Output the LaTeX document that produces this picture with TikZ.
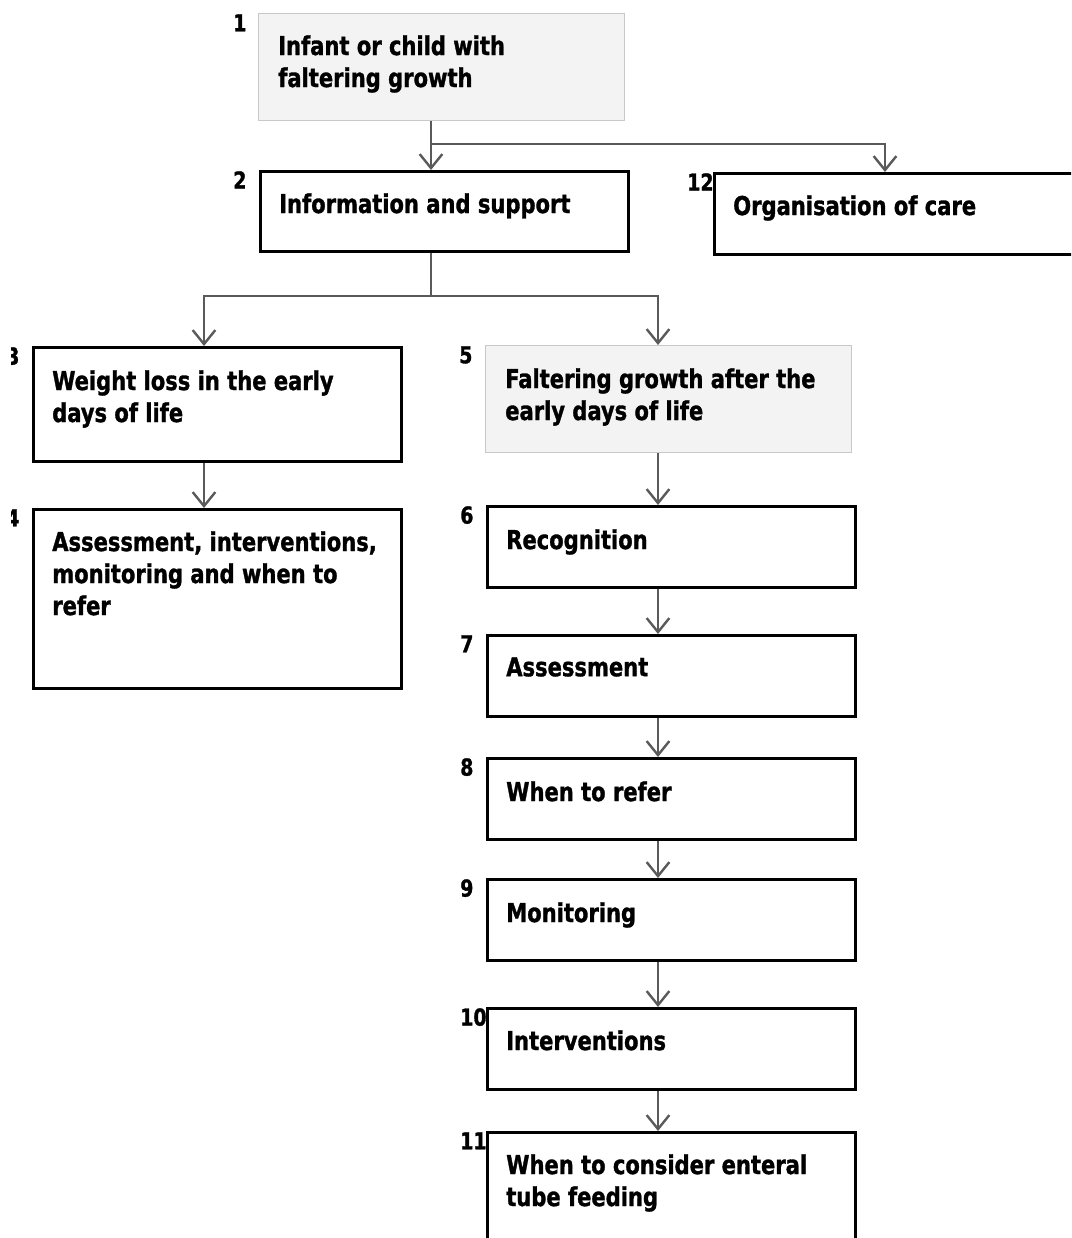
\documentclass[tikz,border=0pt]{standalone}
\usepackage{fontspec}
\newfontfamily\bx{DejaVu Sans Condensed Bold}[FakeStretch=0.9,FakeBold=1.2]
\usetikzlibrary{arrows.meta,calc}
\definecolor{greyfill}{HTML}{F3F3F3}
\definecolor{greyline}{HTML}{C8C8C8}
\definecolor{conncol}{HTML}{5A5A5A}
\begin{document}
\begin{tikzpicture}[x=0.75pt,y=-0.75pt,
  plainbox/.style={draw=black,line width=2pt,fill=white,inner sep=0,anchor=north west},
  greybox/.style={draw=greyline,line width=0.9pt,fill=greyfill,inner sep=0,anchor=north west},
  txt/.style={font=\bx\fontsize{19.5pt}{24pt}\selectfont,align=left,anchor=north west,inner sep=0},
  num/.style={font=\bx\fontsize{17.5pt}{20pt}\selectfont,anchor=north west,inner sep=0},
  line/.style={draw=conncol,line width=1.8pt},
  conn/.style={line,-{Straight Barb[length=10.5pt,width=17pt,line width=1.8pt]}}]
\useasboundingbox (0,0) rectangle (1071,1238);
\clip (0,0) rectangle (1071,1238);
% boxes
\node[greybox,minimum width=274.5pt,minimum height=80pt] (b1) at (258,13) {};
\node[plainbox,minimum width=276pt,minimum height=60pt] (b2) at (259,170) {};
\node[plainbox,minimum width=300pt,minimum height=60.75pt] (b12) at (713,172) {};
\node[plainbox,minimum width=276pt,minimum height=85.5pt] (b3) at (32,346) {};
\node[plainbox,minimum width=276pt,minimum height=134.25pt] (b4) at (32,508) {};
\node[greybox,minimum width=274.5pt,minimum height=80.25pt] (b5) at (485,345) {};
\node[plainbox,minimum width=276pt,minimum height=60.75pt] (b6) at (486,505) {};
\node[plainbox,minimum width=276pt,minimum height=60.75pt] (b7) at (486,634) {};
\node[plainbox,minimum width=276pt,minimum height=60.75pt] (b8) at (486,757) {};
\node[plainbox,minimum width=276pt,minimum height=60.75pt] (b9) at (486,878) {};
\node[plainbox,minimum width=276pt,minimum height=60.75pt] (b10) at (486,1007) {};
\node[plainbox,minimum width=276pt,minimum height=112pt] (b11) at (486,1131) {};
% texts
\node[txt] (t1) at ($(b1.north west)+(20,22)$) {Infant or child with\\faltering growth};
\node[txt] (t2) at ($(b2.north west)+(20,23)$) {Information and support};
\node[txt] (t12) at ($(b12.north west)+(20,23)$) {Organisation of care};
\node[txt] (t3) at ($(b3.north west)+(20,24)$) {Weight loss in the early\\days of life};
\node[txt] (t4) at ($(b4.north west)+(20,23)$) {Assessment, interventions,\\monitoring and when to\\refer};
\node[txt] (t5) at ($(b5.north west)+(20,23)$) {Faltering growth after the\\early days of life};
\node[txt] (t6) at ($(b6.north west)+(20,24)$) {Recognition};
\node[txt] (t7) at ($(b7.north west)+(20,23)$) {Assessment};
\node[txt] (t8) at ($(b8.north west)+(20,24)$) {When to refer};
\node[txt] (t9) at ($(b9.north west)+(20,24)$) {Monitoring};
\node[txt] (t10) at ($(b10.north west)+(20,23)$) {Interventions};
\node[txt] (t11) at ($(b11.north west)+(20,23)$) {When to consider enteral\\tube feeding};
% numbers
\node[num] (n1) at ($(b1.north west)+(-25,1)$) {1};
\node[num] (n2) at ($(b2.north west)+(-26,1)$) {2};
\node[num] (n12) at ($(b12.north west)+(-26,1)$) {12};
\node[num] (n5) at ($(b5.north west)+(-26,1)$) {5};
\node[num] (n6) at ($(b6.north west)+(-26,1)$) {6};
\node[num] (n7) at ($(b7.north west)+(-26,1)$) {7};
\node[num] (n8) at ($(b8.north west)+(-26,1)$) {8};
\node[num] (n9) at ($(b9.north west)+(-26,1)$) {9};
\node[num] (n10) at ($(b10.north west)+(-26,1)$) {10};
\node[num] (n11) at ($(b11.north west)+(-26,1)$) {11};
\begin{scope}
\clip (11,300) rectangle (40,560);
\node[num] (n3) at ($(b3.north west)+(-26,1)$) {3};
\node[num] (n4) at ($(b4.north west)+(-26,1)$) {4};
\end{scope}
% connectors
\coordinate (c1) at (431,144);
\coordinate (c1r) at (885,144);
\coordinate (c2) at (431,296);
\coordinate (c2l) at (204,296);
\coordinate (c2r) at (658,296);
\draw[conn] (b1.south -| c1) -- (b2.north -| c1);
\draw[conn] (c1) -- (c1r) -- (b12.north -| c1r);
\draw[line] (b2.south -| c2) -- (c2);
\draw[conn] (c2) -- (c2l) -- (b3.north -| c2l);
\draw[conn] (c2) -- (c2r) -- (b5.north -| c2r);
\draw[conn] (b3.south -| c2l) -- (b4.north -| c2l);
\draw[conn] (b5.south -| c2r) -- (b6.north -| c2r);
\draw[conn] (b6.south -| c2r) -- (b7.north -| c2r);
\draw[conn] (b7.south -| c2r) -- (b8.north -| c2r);
\draw[conn] (b8.south -| c2r) -- (b9.north -| c2r);
\draw[conn] (b9.south -| c2r) -- (b10.north -| c2r);
\draw[conn] (b10.south -| c2r) -- (b11.north -| c2r);
\end{tikzpicture}
\end{document}
